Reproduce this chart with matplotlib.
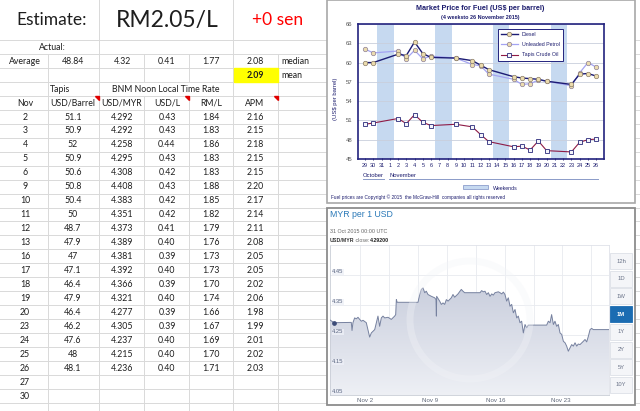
import numpy as np
import matplotlib
matplotlib.use("Agg")
import matplotlib.pyplot as plt
import matplotlib.patches as patches
from matplotlib.colors import LinearSegmentedColormap

plt.rcParams['font.family'] = ['Lato', 'DejaVu Sans']

# ---- spreadsheet values ----
estimate_text = 'RM2.05/L'
change_text = '+0 sen'
average_row = ['48.84', '4.32', '0.41', '1.77', '2.08']
mean_value = '2.09'
nov_days = [2, 3, 4, 5, 6, 9, 10, 11, 12, 13, 16, 17, 18, 19, 20, 23, 24, 25, 26, 27, 30]
tapis_usd = [51.1, 50.9, 52, 50.9, 50.6, 50.8, 50.4, 50, 48.7, 47.9, 47, 47.1, 46.4, 47.9, 46.4,
             46.2, 47.6, 48, 48.1]
usd_myr = [4.292, 4.292, 4.258, 4.295, 4.308, 4.408, 4.383, 4.351, 4.373, 4.389, 4.381, 4.392,
           4.366, 4.321, 4.277, 4.305, 4.237, 4.215, 4.236]
usd_l = [0.43, 0.43, 0.44, 0.43, 0.42, 0.43, 0.42, 0.42, 0.41, 0.40, 0.39, 0.40, 0.39, 0.40,
         0.39, 0.39, 0.40, 0.40, 0.40]
rm_l = [1.84, 1.83, 1.86, 1.83, 1.83, 1.88, 1.85, 1.82, 1.79, 1.76, 1.73, 1.73, 1.70, 1.74,
        1.66, 1.67, 1.69, 1.70, 1.71]
apm = [2.16, 2.15, 2.18, 2.15, 2.15, 2.20, 2.17, 2.14, 2.11, 2.08, 2.05, 2.05, 2.02, 2.06,
       1.98, 1.99, 2.01, 2.02, 2.03]

# ---- fuel chart values ----
cat_labels = ['29', '30', '31'] + [str(d) for d in range(1, 27)]
weekend_starts = ['31', '7', '14', '21']
trade_days = ['29', '30', '2', '3', '4', '5', '6', '9', '11', '12', '13', '16', '17', '18', '19',
              '20', '23', '24', '25', '26']
diesel = [60.0, 60.0, 61.3, 61.1, 63.2, 61.4, 60.8, 60.7, 60.3, 59.6, 58.9, 57.8, 57.6, 57.5,
          57.4, 57.1, 56.6, 58.2, 58.3, 57.9]
petrol = [62.1, 61.5, 61.8, 60.6, 61.9, 60.6, 61.0, 60.7, 59.7, 59.5, 58.2, 57.4, 56.6, 56.7,
          57.3, 57.1, 56.4, 58.4, 60.0, 59.3]
tapis = [50.4, 50.6, 51.3, 50.5, 51.9, 50.7, 50.2, 50.4, 50.0, 48.8, 47.7, 46.9, 47.0, 46.4,
         47.8, 46.3, 46.1, 47.6, 48.0, 48.1]

# ---- xe chart values (x = day of November) ----
xe_day = [-1.75, -1.32, 0.53, 0.61, 0.71, 0.89, 1.07, 1.25, 1.43, 1.61,
          1.79, 2.14, 2.50, 2.68, 3.04, 3.39, 3.57, 3.75, 3.93, 4.11,
          4.47, 4.82, 5.18, 5.29, 5.36, 5.45, 7.68, 7.86, 8.04, 8.22,
          8.40, 8.57, 8.75, 9.11, 9.47, 9.61, 9.65, 9.68, 10.00, 10.18,
          10.36, 10.54, 10.72, 10.90, 11.25, 11.43, 11.61, 11.97, 12.32, 12.50,
          12.68, 13.58, 14.33, 14.50, 14.68, 14.86, 15.04, 15.22, 15.40, 15.58,
          15.75, 15.93, 16.29, 16.47, 16.65, 16.83, 17.00, 17.18, 17.36, 17.54,
          17.72, 17.90, 18.08, 18.26, 18.43, 18.61, 18.79, 18.97, 19.15, 19.33,
          19.50, 21.47, 21.65, 21.83, 22.00, 22.19, 22.36, 22.54, 22.72, 22.90,
          23.08, 23.26, 23.44, 23.61, 23.79, 23.97, 24.15, 24.33, 24.51, 24.69,
          24.86, 25.04, 25.40, 25.58, 25.76, 25.94, 26.12, 26.29, 26.47, 28.15]
xe_rate = [4.300, 4.291, 4.292, 4.265, 4.291, 4.307, 4.304, 4.309, 4.302, 4.296,
           4.299, 4.291, 4.243, 4.257, 4.268, 4.313, 4.279, 4.307, 4.313, 4.307,
           4.309, 4.302, 4.313, 4.318, 4.368, 4.359, 4.359, 4.385, 4.402, 4.407,
           4.391, 4.396, 4.385, 4.379, 4.374, 4.368, 4.313, 4.379, 4.363, 4.352,
           4.357, 4.352, 4.368, 4.363, 4.374, 4.385, 4.376, 4.387, 4.402, 4.396,
           4.391, 4.391, 4.391, 4.398, 4.394, 4.396, 4.385, 4.391, 4.379, 4.387,
           4.383, 4.391, 4.394, 4.391, 4.387, 4.393, 4.385, 4.363, 4.374, 4.346,
           4.352, 4.324, 4.335, 4.307, 4.313, 4.291, 4.296, 4.257, 4.285, 4.274,
           4.283, 4.283, 4.296, 4.291, 4.318, 4.285, 4.296, 4.279, 4.285, 4.257,
           4.252, 4.229, 4.224, 4.213, 4.196, 4.207, 4.218, 4.213, 4.224, 4.213,
           4.220, 4.218, 4.229, 4.235, 4.227, 4.246, 4.268, 4.272, 4.268, 4.268]
xe_ticks = [2, 9, 16, 23]
xe_buttons = ['12h', '1D', '1W', '1M', '1Y', '2Y', '5Y', '10Y']

W, H = 640, 411
fig = plt.figure(figsize=(W / 100, H / 100), dpi=100)


def rect(l, t, r, b):
    return [l / W, 1 - b / H, (r - l) / W, (b - t) / H]


# background: the spreadsheet, in pixel coordinates
bg = fig.add_axes([0, 0, 1, 1])
bg.set_xlim(0, W)
bg.set_ylim(H, 0)
bg.axis('off')

grid_c = '#d9d9d9'
row_h = 13.96
row_top = 40
k = 0
while row_top + k * row_h < H:
    bg.plot([0, W], [row_top + k * row_h] * 2, color=grid_c, lw=0.7, zorder=1)
    k += 1
for x in [99, 233]:
    bg.plot([x, x], [0, H], color=grid_c, lw=0.7, zorder=1)
for x in [48, 278]:
    bg.plot([x, x], [54, H], color=grid_c, lw=0.7, zorder=1)
for x in [144, 189]:
    bg.plot([x, x], [54, 82], color=grid_c, lw=0.7, zorder=1)
    bg.plot([x, x], [96, H], color=grid_c, lw=0.7, zorder=1)

txt = '#1e1e1e'
bg.text(52, 20, 'Estimate:', fontsize=12.5, ha='center', va='center', color=txt)
bg.text(167, 20, estimate_text, fontsize=16.5, ha='center', va='center', color=txt)
bg.text(278, 20, change_text, fontsize=12.5, ha='center', va='center', color='#ff0000')

fs = 6.3
col_x = [25, 73, 122, 167, 211, 255]
bg.text(52, 47, 'Actual:', fontsize=fs, ha='center', va='center', color=txt)
bg.text(col_x[0], 61, 'Average', fontsize=fs, ha='center', va='center', color=txt)
for cx, v in zip(col_x[1:], average_row):
    bg.text(cx, 61, v, fontsize=fs, ha='center', va='center', color=txt)
bg.text(281, 61, 'median', fontsize=fs, ha='left', va='center', color=txt)
bg.add_patch(patches.Rectangle((233.5, 68.3), 44, 13.4, color='#ffff00', zorder=2))
bg.text(col_x[5], 75, mean_value, fontsize=fs, ha='center', va='center', color=txt,
        fontweight='bold', zorder=3)
bg.text(281, 75, 'mean', fontsize=fs, ha='left', va='center', color=txt)
bg.text(50, 89, 'Tapis', fontsize=fs, ha='left', va='center', color=txt)
bg.text(166, 89, 'BNM Noon Local Time Rate', fontsize=fs, ha='center', va='center', color=txt)
for cx, h in zip(col_x, ['Nov', 'USD/Barrel', 'USD/MYR', 'USD/L', 'RM/L', 'APM']):
    bg.text(cx, 103, h, fontsize=fs, ha='center', va='center', color=txt)
for tx in [98.5, 188.5, 277.5]:
    bg.add_patch(patches.Polygon([(tx - 4, 96.5), (tx, 96.5), (tx, 100.5)], color='#e00000',
                                 zorder=3))

for i, d in enumerate(nov_days):
    y = 117 + i * row_h
    bg.text(col_x[0], y, str(d), fontsize=fs, ha='center', va='center', color=txt)
    if i < len(tapis_usd):
        row = ['{:g}'.format(tapis_usd[i]), '{:.3f}'.format(usd_myr[i]),
               '{:.2f}'.format(usd_l[i]), '{:.2f}'.format(rm_l[i]), '{:.2f}'.format(apm[i])]
        for cx, v in zip(col_x[1:], row):
            bg.text(cx, y, v, fontsize=fs, ha='center', va='center', color=txt)

# panel frames
bg.add_patch(patches.Rectangle((326.5, 0.5), 308, 202, fc='white', ec='#a8a8a8', lw=1.2, zorder=3))
bg.add_patch(patches.Rectangle((327, 207.5), 307.5, 197.5, fc='white', ec='#8c8c8c', lw=1.3,
                               zorder=3))

# fuel chart texts around the axes
navy = '#1d1d6e'
cf = ['Liberation Sans', 'DejaVu Sans']
bg.text(480, 8, r'Market Price for Fuel (US\$ per barrel)', fontsize=5.2, fontweight='bold',
        ha='center', va='center', color=navy, family=cf, zorder=4)
bg.text(480, 17, '(4 weeksto 26 November 2015)', fontsize=3.9, fontweight='bold',
        ha='center', va='center', color=navy, family=cf, zorder=4)
bg.text(335, 99, r'(US\$ per barrel)', fontsize=4.2, rotation=90, ha='center', va='center',
        color=navy, family=cf, zorder=4)
bg.text(373, 175.5, 'October', fontsize=4.2, ha='center', va='center', color=navy, family=cf,
        zorder=4)
bg.plot([362.5, 384], [179.5, 179.5], color='#8a9ac8', lw=0.7, zorder=4)
bg.text(389, 175.5, 'November', fontsize=4.2, ha='left', va='center', color=navy, family=cf,
        zorder=4)
bg.plot([389, 598], [179.5, 179.5], color='#8a9ac8', lw=0.7, zorder=4)
bg.add_patch(patches.Rectangle((463, 185.5), 24.5, 3.5, fc='#c6d9f0', ec='#7b8fc4', lw=0.5,
                               zorder=4))
bg.text(493, 188.5, 'Weekends', fontsize=3.8, ha='left', va='center', color=navy, family=cf,
        zorder=4)
bg.text(331, 197.5, 'Fuel prices are Copyright \u00a9 2015  the McGraw-Hill  companies all rights '
        'reserved', fontsize=3.4, ha='left', va='center', color=navy, family=cf, zorder=4)

# xe chart header and buttons
bg.text(330, 214, 'MYR per 1 USD', fontsize=6.3, ha='left', va='center', color='#2a79b8',
        family=cf, zorder=4)
bg.text(330, 231, '31 Oct 2015 00:00 UTC', fontsize=3.9, ha='left', va='center',
        color='#666666', family=cf, zorder=4)
t1 = bg.text(330, 240, 'USD/MYR', fontsize=3.8, ha='left', va='center', color='#333333',
             fontweight='bold', family=cf, zorder=4)
t2 = bg.annotate(' close:', xy=(1, 0.5), xycoords=t1, fontsize=3.8, ha='left', va='center',
                 color='#666666', family=cf, zorder=4)
bg.annotate('4.29200', xy=(1, 0.5), xycoords=t2, fontsize=3.8, ha='left', va='center',
            color='#222222', fontweight='bold', family=cf, zorder=4)
for i, b in enumerate(xe_buttons):
    cy = 261 + i * 17.7
    sel = b == '1M'
    bg.add_patch(patches.Rectangle((610, cy - 8), 22, 16, fc='#1b6cb2' if sel else '#f4f5f8',
                                   ec='#1b6cb2' if sel else '#dde0e7', lw=0.6, zorder=4))
    bg.text(621, cy, b, fontsize=4.2, ha='center', va='center', family=cf, zorder=5,
            color='white' if sel else '#6b7489', fontweight='bold' if sel else 'normal')

# ---- fuel chart ----
ax1 = fig.add_axes(rect(358, 24, 604, 159))
pos = [cat_labels.index(d) for d in trade_days]
for s in weekend_starts:
    i = cat_labels.index(s)
    ax1.axvspan(i - 0.5, i + 1.5, color='#c6d9f0', lw=0, zorder=0)
ax1.plot(pos, petrol, color='#a4a4f2', lw=0.9, marker='o', ms=3.2, mfc='#ecdcae', mec='#8d7f96',
         mew=0.5, label='Unleaded Petrol', zorder=3)
ax1.plot(pos, diesel, color='#1c1c74', lw=1.0, marker='o', ms=3.2, mfc='#ecdcae', mec='#8a7c66',
         mew=0.5, label='Diesel', zorder=4)
ax1.plot(pos, tapis, color='#8e1b46', lw=0.8, marker='s', ms=2.8, mfc='#f4f4fa', mec='#2a2a7a',
         mew=0.6, label='Tapis Crude Oil', zorder=4)
ax1.set_xlim(-0.85, 28.95)
ax1.set_ylim(45, 66)
ax1.set_yticks(np.arange(45, 67, 3))
ax1.yaxis.grid(True, color='#c9cfdc', lw=0.6)
ax1.set_axisbelow(True)
ax1.set_xticks(range(len(cat_labels)))
ax1.set_xticklabels(cat_labels, family=cf)
for lab in ax1.get_yticklabels():
    lab.set_family(cf)
ax1.tick_params(axis='x', labelsize=4.0, colors=navy, length=2, width=0.6, direction='inout',
                pad=2)
ax1.tick_params(axis='y', labelsize=4.3, labelcolor='#555555', length=0, pad=4)
for sp in ax1.spines.values():
    sp.set_color('#23237e')
    sp.set_linewidth(1.2)
h, l = ax1.get_legend_handles_labels()
order = [1, 0, 2]
leg = ax1.legend([h[i] for i in order], [l[i] for i in order], loc='upper right',
                 bbox_to_anchor=(0.845, 0.985), fancybox=False, framealpha=1,
                 edgecolor='#23237e', handlelength=3.2, borderpad=0.6, labelspacing=1.0,
                 prop={'family': cf, 'size': 3.8})
leg.get_frame().set_linewidth(0.7)
for t in leg.get_texts():
    t.set_color(navy)

# ---- xe chart ----
ax2 = fig.add_axes(rect(330, 245, 609, 395))
ax2.set_xlim(-1.75, 28.15)
ax2.set_ylim(4.05, 4.55)
fill = ax2.fill_between(xe_day, xe_rate, 4.05, color='none', lw=0)
cmap = LinearSegmentedColormap.from_list('xe', ['#eef0f5', '#c9cedd'])
grad = np.linspace(0, 1, 256).reshape(-1, 1)
im = ax2.imshow(grad, extent=[xe_day[0], xe_day[-1], 4.05, 4.42], origin='lower', aspect='auto',
                cmap=cmap, zorder=1)
im.set_clip_path(fill.get_paths()[0], transform=ax2.transData)
ax2.plot(xe_day, xe_rate, color='#76819f', lw=0.7, zorder=3)
ax2.plot(xe_day[1], xe_rate[1], 'o', ms=2.4, color='#3c4c78', zorder=4)
ax2.set_xlim(-1.75, 28.15)
ax2.set_ylim(4.05, 4.55)
ax2.set_xticks(xe_ticks)
ax2.set_xticklabels(['Nov %d' % d for d in xe_ticks], family=cf)
ax2.set_xticks(np.arange(1.46, 28, 3.1), minor=True)
ax2.set_yticks(np.arange(4.05, 4.46, 0.1))
ax2.set_yticklabels([])
ax2.grid(True, which='minor', axis='x', color='#e8eaef', lw=0.6)
ax2.grid(True, which='major', axis='y', color='#e8eaef', lw=0.6)
ax2.set_axisbelow(True)
ax2.tick_params(axis='both', which='both', length=0)
ax2.tick_params(axis='x', labelsize=4.4, labelcolor='#5f6778', pad=2.5)
for v in np.arange(4.05, 4.46, 0.1):
    ax2.text(-1.5, v + 0.003, '%.2f' % v, fontsize=4.2, color='#5d6883', va='bottom', ha='left',
             family=cf, zorder=5,
             bbox=dict(boxstyle='square,pad=0.1', fc='#eef0f7', ec='none', alpha=0.8))
for sp in ax2.spines.values():
    sp.set_color('#dfe2e9')
    sp.set_linewidth(0.6)
ax2.spines['left'].set_color('#c9cdd6')
ax2.spines['bottom'].set_color('#c9cdd6')

# faint watermark ring
fig.add_artist(patches.Ellipse((470 / W, 1 - 320 / H), 120 / W, 118 / H, fill=False,
                               ec='#f3f4f8', lw=5, alpha=0.35))

fig.savefig('out.png', dpi=100)
